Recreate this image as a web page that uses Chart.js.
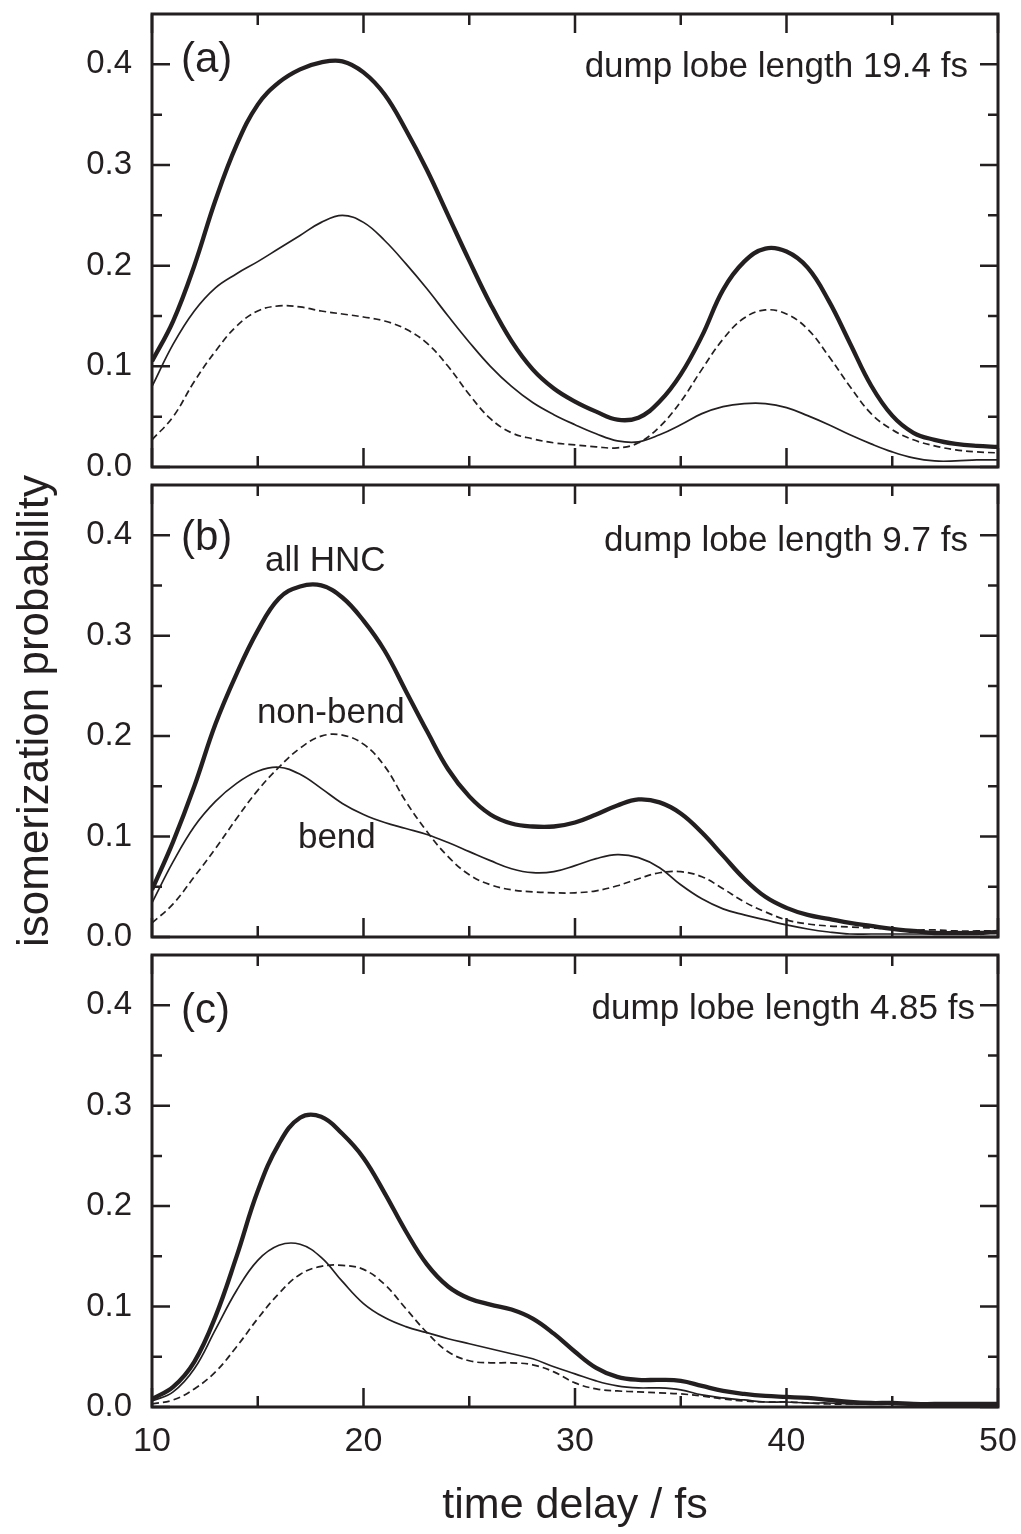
<!DOCTYPE html>
<html><head><meta charset="utf-8">
<script src="https://cdn.jsdelivr.net/npm/chart.js@4.4.0/dist/chart.umd.min.js"></script>
<style>
html,body{margin:0;padding:0;background:#fff;overflow:hidden;}
#wrap{position:relative;width:1021px;height:1534px;background:#fff;overflow:hidden;}
canvas{position:absolute;left:0;top:-100px;}
</style></head><body>
<div id="wrap">
<canvas id="ca" width="1121" height="1634" style="width:1121px;height:1634px"></canvas>
<canvas id="cb" width="1121" height="1634" style="width:1121px;height:1634px"></canvas>
<canvas id="cc" width="1121" height="1634" style="width:1121px;height:1634px"></canvas>
</div>
<script>
// ---------- data ----------
const timeDelay = [10,11,12,13,14,15,16,17,18,19,20,21,22,23,24,25,26,27,28,29,30,31,32,33,34,35,36,37,38,39,40,41,42,43,44,45,46,47,48,49,50];

// panel (a): dump lobe length 19.4 fs
const aAllHNC  = [0.105,0.145,0.200,0.265,0.320,0.360,0.382,0.395,0.402,0.403,0.392,0.370,0.335,0.295,0.250,0.205,0.162,0.125,0.097,0.078,0.065,0.055,0.047,0.049,0.065,0.092,0.130,0.176,0.204,0.217,0.214,0.198,0.165,0.123,0.081,0.051,0.034,0.027,0.023,0.021,0.020];
const aBend    = [0.080,0.122,0.155,0.178,0.192,0.204,0.217,0.230,0.243,0.250,0.243,0.225,0.202,0.177,0.150,0.124,0.100,0.080,0.064,0.052,0.042,0.033,0.026,0.025,0.032,0.042,0.053,0.060,0.063,0.063,0.059,0.051,0.042,0.032,0.023,0.015,0.009,0.006,0.006,0.007,0.007];
const aNonBend = [0.027,0.050,0.085,0.115,0.140,0.155,0.160,0.159,0.155,0.152,0.149,0.145,0.137,0.123,0.100,0.072,0.048,0.034,0.028,0.024,0.022,0.020,0.019,0.024,0.040,0.065,0.097,0.127,0.148,0.156,0.152,0.137,0.110,0.080,0.053,0.037,0.027,0.021,0.017,0.015,0.014];

// panel (b): dump lobe length 9.7 fs
const bAllHNC  = [0.047,0.095,0.150,0.212,0.262,0.305,0.337,0.349,0.350,0.338,0.315,0.285,0.245,0.205,0.167,0.140,0.122,0.113,0.110,0.110,0.114,0.122,0.131,0.137,0.134,0.123,0.104,0.081,0.058,0.040,0.029,0.022,0.018,0.014,0.011,0.008,0.006,0.004,0.004,0.004,0.005];
const bBend    = [0.034,0.075,0.110,0.135,0.153,0.165,0.169,0.162,0.148,0.133,0.122,0.114,0.108,0.102,0.094,0.085,0.076,0.068,0.064,0.065,0.071,0.078,0.082,0.079,0.069,0.052,0.038,0.028,0.022,0.017,0.012,0.008,0.005,0.003,0.003,0.003,0.003,0.003,0.003,0.004,0.004];
const bNonBend = [0.014,0.033,0.060,0.088,0.118,0.146,0.169,0.188,0.200,0.201,0.192,0.170,0.135,0.105,0.080,0.062,0.052,0.047,0.045,0.044,0.044,0.046,0.051,0.058,0.064,0.065,0.060,0.048,0.035,0.025,0.017,0.013,0.011,0.010,0.009,0.008,0.007,0.007,0.006,0.006,0.006];

// panel (c): dump lobe length 4.85 fs
const cAllHNC  = [0.008,0.020,0.045,0.090,0.150,0.215,0.262,0.288,0.289,0.272,0.248,0.213,0.175,0.142,0.120,0.108,0.102,0.097,0.088,0.073,0.055,0.039,0.030,0.027,0.027,0.026,0.021,0.016,0.013,0.011,0.010,0.009,0.007,0.005,0.004,0.004,0.003,0.003,0.003,0.003,0.003];
const cBend    = [0.006,0.015,0.038,0.077,0.116,0.146,0.161,0.162,0.149,0.125,0.103,0.089,0.080,0.074,0.068,0.063,0.058,0.053,0.048,0.040,0.033,0.026,0.021,0.019,0.019,0.017,0.012,0.009,0.007,0.005,0.005,0.004,0.004,0.003,0.003,0.003,0.003,0.003,0.003,0.003,0.003];
const cNonBend = [0.003,0.007,0.018,0.035,0.060,0.088,0.113,0.132,0.140,0.141,0.137,0.122,0.098,0.074,0.055,0.046,0.044,0.044,0.042,0.035,0.024,0.018,0.016,0.015,0.014,0.013,0.011,0.008,0.006,0.005,0.005,0.004,0.003,0.003,0.003,0.003,0.003,0.003,0.003,0.003,0.003];

// ticks
const xMajorTicks = [10,20,30,40,50];
const xMinorTicks = [15,25,35,45];
const xTickLabels = ['10','20','30','40','50'];
const yMajorTicks = [0,0.1,0.2,0.3,0.4];
const yMinorTicks = [0.05,0.15,0.25,0.35];
const yTickLabels = ['0.0','0.1','0.2','0.3','0.4'];

// texts
const panelLabels = ['(a)','(b)','(c)'];
const panelNotes = ['dump lobe length 19.4 fs','dump lobe length 9.7 fs','dump lobe length 4.85 fs'];
const seriesNames = ['all HNC','bend','non-bend'];
const xTitle = 'time delay / fs';
const yTitle = 'isomerization probability';

// ---------- drawing ----------
const INK = '#231f20';
const FONT = '"Liberation Sans", Arial, Helvetica, sans-serif';
const OFF = 100;      // canvas is shifted up by this much
const EXTRA_R = 100;  // canvas extends past the right page edge by this much

const framePlugin = {
  id: 'frame',
  afterDatasetsDraw(chart, args, o) {
    const ctx = chart.ctx, a = chart.chartArea, xs = chart.scales.x, ys = chart.scales.y;
    ctx.save();
    ctx.strokeStyle = INK;
    ctx.lineWidth = 2.5;
    ctx.lineCap = 'butt';
    ctx.beginPath();
    const xt = (v, len) => { const p = xs.getPixelForValue(v);
      ctx.moveTo(p, a.bottom); ctx.lineTo(p, a.bottom - len);
      ctx.moveTo(p, a.top); ctx.lineTo(p, a.top + len); };
    const yt = (v, len) => { const p = ys.getPixelForValue(v);
      ctx.moveTo(a.left, p); ctx.lineTo(a.left + len, p);
      ctx.moveTo(a.right, p); ctx.lineTo(a.right - len, p); };
    xMajorTicks.forEach(v => xt(v, 19));
    xMinorTicks.forEach(v => xt(v, 11));
    yMajorTicks.forEach(v => yt(v, 18));
    yMinorTicks.forEach(v => yt(v, 10));
    ctx.stroke();
    ctx.lineWidth = 3;
    ctx.strokeRect(a.left, a.top, a.right - a.left, a.bottom - a.top);
    ctx.fillStyle = INK;
    ctx.textBaseline = 'alphabetic';
    (o.texts || []).forEach(t => {
      ctx.font = t.size + 'px ' + FONT;
      ctx.textAlign = t.align || 'left';
      ctx.fillText(t.text, xs.getPixelForValue(t.x), ys.getPixelForValue(t.y));
    });
    ctx.restore();
  }
};

function makePanel(id, all, bend, nonbend, cfg) {
  const ds = (data, w, dash) => ({
    data: timeDelay.map((t, i) => ({x: t, y: data[i]})),
    borderColor: INK, borderWidth: w, borderDash: dash || [],
    pointRadius: 0, fill: false, tension: 0.4
  });
  return new Chart(document.getElementById(id), {
    type: 'line',
    data: { datasets: [
      Object.assign(ds(all, 4.3), {label: seriesNames[0]}),
      Object.assign(ds(bend, 1.7), {label: seriesNames[1]}),
      Object.assign(ds(nonbend, 1.7, [7, 4]), {label: seriesNames[2]})
    ]},
    plugins: [framePlugin],
    options: {
      responsive: false, animation: false, events: [],
      layout: { padding: { top: cfg.top + OFF, right: 23 + EXTRA_R, left: 0, bottom: 0 } },
      plugins: { legend: {display: false}, tooltip: {enabled: false}, frame: { texts: cfg.texts } },
      scales: {
        x: {
          type: 'linear', min: 10, max: 50,
          grid: {display: false, drawTicks: false}, border: {display: false},
          afterBuildTicks: s => { s.ticks = xMajorTicks.map(v => ({value: v})); },
          ticks: { display: cfg.xLabels, padding: 14, color: INK,
                   font: {family: FONT, size: 34},
                   callback: (v) => xTickLabels[xMajorTicks.indexOf(v)] ?? '' },
          title: { display: cfg.xLabels, text: xTitle, color: INK,
                   font: {family: FONT, size: 43}, padding: {top: 0, bottom: 2} },
          afterFit: s => { s.height = cfg.bottomH; }
        },
        y: {
          type: 'linear', min: 0, max: 0.45,
          grid: {display: false, drawTicks: false}, border: {display: false},
          afterBuildTicks: s => { s.ticks = yMajorTicks.map(v => ({value: v})); },
          ticks: { padding: 20, color: INK, font: {family: FONT, size: 33},
                   callback: (v) => yTickLabels[yMajorTicks.findIndex(t => Math.abs(t - v) < 1e-9)] ?? '' },
          title: { display: cfg.yTitle, text: yTitle, color: INK,
                   font: {family: FONT, size: 44}, padding: {top: 9, bottom: 0} },
          afterFit: s => { s.width = 152; }
        }
      }
    }
  });
}

makePanel('ca', aAllHNC, aBend, aNonBend, {
  top: 14, bottomH: 1534 - 467, xLabels: false, yTitle: false,
  texts: [
    {text: panelLabels[0], x: 11.37, y: 0.392, size: 42},
    {text: panelNotes[0], x: 48.58, y: 0.387, size: 35, align: 'right'}
  ]
});
makePanel('cb', bAllHNC, bBend, bNonBend, {
  top: 485, bottomH: 1534 - 937, xLabels: false, yTitle: true,
  texts: [
    {text: panelLabels[1], x: 11.37, y: 0.385, size: 42},
    {text: panelNotes[1], x: 48.58, y: 0.384, size: 35, align: 'right'},
    {text: seriesNames[0], x: 15.34, y: 0.364, size: 35},
    {text: seriesNames[2], x: 14.96, y: 0.213, size: 35},
    {text: seriesNames[1], x: 16.9, y: 0.0886, size: 35}
  ]
});
makePanel('cc', cAllHNC, cBend, cNonBend, {
  top: 955, bottomH: 1534 - 1407, xLabels: true, yTitle: false,
  texts: [
    {text: panelLabels[2], x: 11.37, y: 0.382, size: 42},
    {text: panelNotes[2], x: 48.91, y: 0.386, size: 35, align: 'right'}
  ]
});
</script>
</body></html>
